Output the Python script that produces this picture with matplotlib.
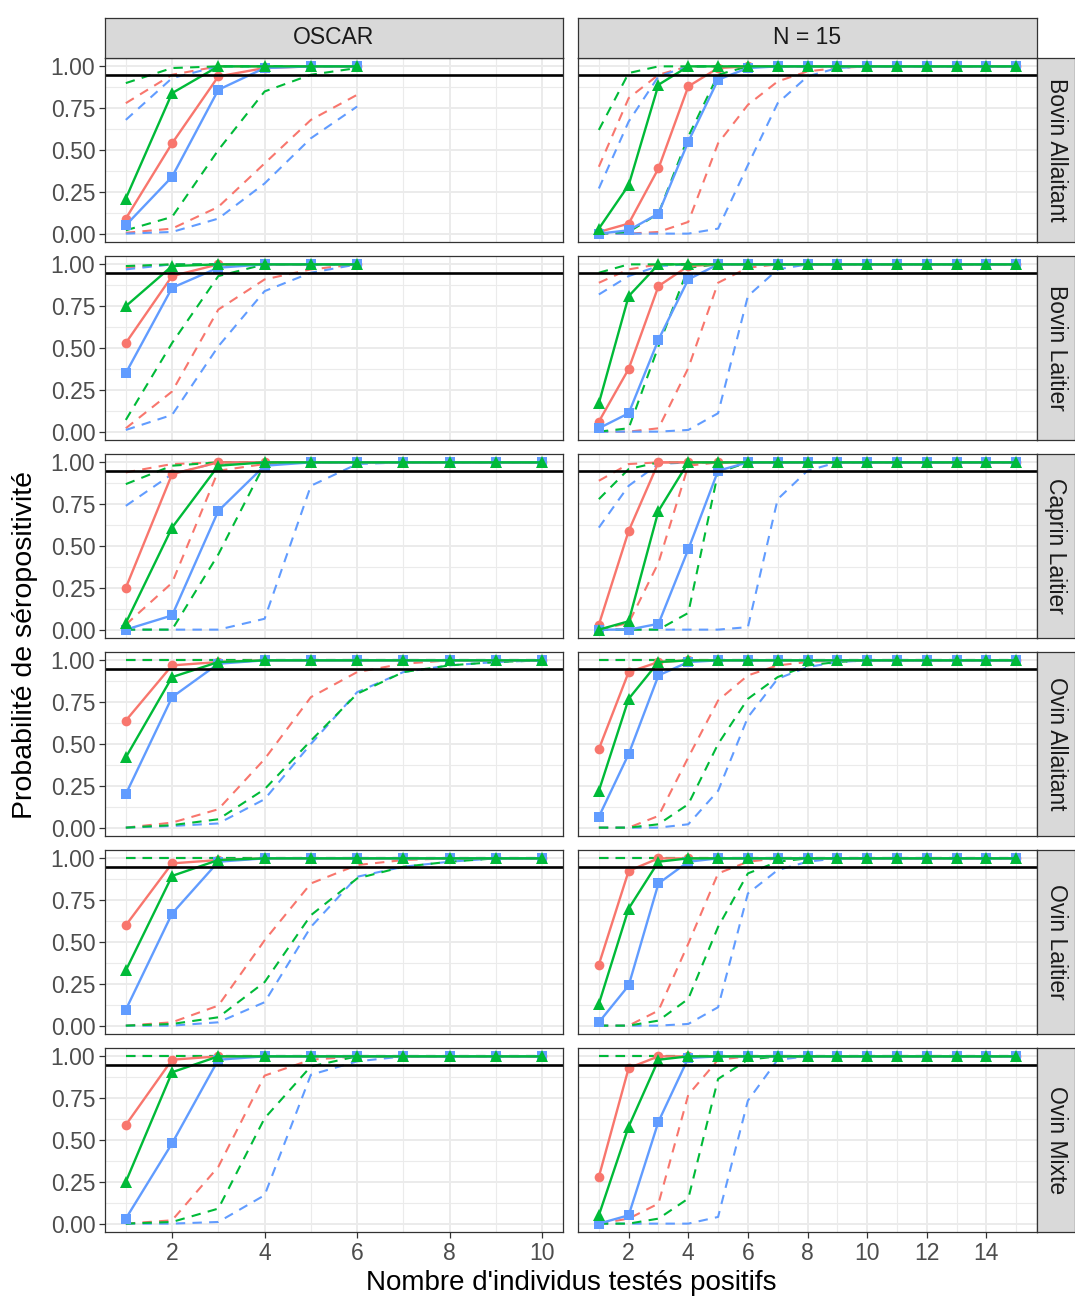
import matplotlib
matplotlib.use("Agg")
import matplotlib.pyplot as plt
from matplotlib.ticker import FixedLocator

plt.rcParams["font.family"] = ["Liberation Sans", "DejaVu Sans"]

# colonnes / lignes du facet
col_labels = ["OSCAR", "N = 15"]
row_labels = ["Bovin Allaitant", "Bovin Laitier", "Caprin Laitier",
              "Ovin Allaitant", "Ovin Laitier", "Ovin Mixte"]
x_label = "Nombre d'individus testés positifs"
y_label = "Probabilité de séropositivité"
seuil = 0.95

x_oscar_short = [1, 2, 3, 4, 5, 6]
x_oscar_long = [1, 2, 3, 4, 5, 6, 7, 8, 9, 10]
x_n15 = [1, 2, 3, 4, 5, 6, 7, 8, 9, 10, 11, 12, 13, 14, 15]

# chaque variable: [rouge, vert, bleu]
# --- Bovin Allaitant ---
ba_oscar_mid = [[0.09, 0.54, 0.94, 0.99, 1.0, 1.0],
                [0.21, 0.84, 1.0, 1.0, 1.0, 1.0],
                [0.05, 0.34, 0.86, 0.99, 1.0, 1.0]]
ba_oscar_lo = [[0.005, 0.03, 0.16, 0.42, 0.68, 0.83],
               [0.02, 0.10, 0.50, 0.85, 0.95, 0.99],
               [0.0, 0.01, 0.09, 0.30, 0.57, 0.76]]
ba_oscar_hi = [[0.78, 0.95, 1.0, 1.0, 1.0, 1.0],
               [0.90, 0.99, 1.0, 1.0, 1.0, 1.0],
               [0.68, 0.93, 1.0, 1.0, 1.0, 1.0]]
ba_n15_mid = [[0.01, 0.06, 0.39, 0.88, 0.99, 1.0, 1.0, 1.0, 1.0, 1.0, 1.0, 1.0, 1.0, 1.0, 1.0],
              [0.03, 0.29, 0.89, 1.0, 1.0, 1.0, 1.0, 1.0, 1.0, 1.0, 1.0, 1.0, 1.0, 1.0, 1.0],
              [0.0, 0.02, 0.12, 0.55, 0.92, 0.99, 1.0, 1.0, 1.0, 1.0, 1.0, 1.0, 1.0, 1.0, 1.0]]
ba_n15_lo = [[0.0, 0.0, 0.01, 0.07, 0.54, 0.77, 0.91, 0.97, 0.99, 1.0, 1.0, 1.0, 1.0, 1.0, 1.0],
             [0.0, 0.01, 0.12, 0.58, 0.95, 1.0, 1.0, 1.0, 1.0, 1.0, 1.0, 1.0, 1.0, 1.0, 1.0],
             [0.0, 0.0, 0.0, 0.0, 0.03, 0.41, 0.78, 0.94, 0.99, 1.0, 1.0, 1.0, 1.0, 1.0, 1.0]]
ba_n15_hi = [[0.40, 0.81, 0.95, 1.0, 1.0, 1.0, 1.0, 1.0, 1.0, 1.0, 1.0, 1.0, 1.0, 1.0, 1.0],
             [0.62, 0.96, 1.0, 1.0, 1.0, 1.0, 1.0, 1.0, 1.0, 1.0, 1.0, 1.0, 1.0, 1.0, 1.0],
             [0.27, 0.67, 0.94, 1.0, 1.0, 1.0, 1.0, 1.0, 1.0, 1.0, 1.0, 1.0, 1.0, 1.0, 1.0]]

# --- Bovin Laitier ---
bl_oscar_mid = [[0.53, 0.93, 1.0, 1.0, 1.0, 1.0],
                [0.75, 0.99, 1.0, 1.0, 1.0, 1.0],
                [0.35, 0.86, 0.98, 1.0, 1.0, 1.0]]
bl_oscar_lo = [[0.02, 0.24, 0.73, 0.91, 0.97, 1.0],
               [0.07, 0.53, 0.93, 1.0, 1.0, 1.0],
               [0.01, 0.10, 0.51, 0.84, 0.95, 1.0]]
bl_oscar_hi = [[0.98, 1.0, 1.0, 1.0, 1.0, 1.0],
               [0.99, 1.0, 1.0, 1.0, 1.0, 1.0],
               [0.97, 1.0, 1.0, 1.0, 1.0, 1.0]]
bl_n15_mid = [[0.06, 0.375, 0.87, 0.99, 1.0, 1.0, 1.0, 1.0, 1.0, 1.0, 1.0, 1.0, 1.0, 1.0, 1.0],
              [0.17, 0.81, 1.0, 1.0, 1.0, 1.0, 1.0, 1.0, 1.0, 1.0, 1.0, 1.0, 1.0, 1.0, 1.0],
              [0.02, 0.11, 0.55, 0.91, 1.0, 1.0, 1.0, 1.0, 1.0, 1.0, 1.0, 1.0, 1.0, 1.0, 1.0]]
bl_n15_lo = [[0.0, 0.0, 0.02, 0.38, 0.89, 0.98, 1.0, 1.0, 1.0, 1.0, 1.0, 1.0, 1.0, 1.0, 1.0],
             [0.0, 0.02, 0.51, 0.98, 1.0, 1.0, 1.0, 1.0, 1.0, 1.0, 1.0, 1.0, 1.0, 1.0, 1.0],
             [0.0, 0.0, 0.0, 0.01, 0.11, 0.81, 0.97, 1.0, 1.0, 1.0, 1.0, 1.0, 1.0, 1.0, 1.0]]
bl_n15_hi = [[0.89, 0.97, 1.0, 1.0, 1.0, 1.0, 1.0, 1.0, 1.0, 1.0, 1.0, 1.0, 1.0, 1.0, 1.0],
             [0.95, 1.0, 1.0, 1.0, 1.0, 1.0, 1.0, 1.0, 1.0, 1.0, 1.0, 1.0, 1.0, 1.0, 1.0],
             [0.82, 0.93, 0.99, 1.0, 1.0, 1.0, 1.0, 1.0, 1.0, 1.0, 1.0, 1.0, 1.0, 1.0, 1.0]]

# --- Caprin Laitier ---
cl_oscar_mid = [[0.25, 0.93, 1.0, 1.0, 1.0, 1.0, 1.0, 1.0, 1.0, 1.0],
                [0.04, 0.61, 0.98, 1.0, 1.0, 1.0, 1.0, 1.0, 1.0, 1.0],
                [0.0, 0.085, 0.71, 0.98, 1.0, 1.0, 1.0, 1.0, 1.0, 1.0]]
cl_oscar_lo = [[0.03, 0.28, 0.95, 0.99, 1.0, 1.0, 1.0, 1.0, 1.0, 1.0],
               [0.0, 0.0, 0.45, 0.99, 1.0, 1.0, 1.0, 1.0, 1.0, 1.0],
               [0.0, 0.0, 0.0, 0.065, 0.86, 0.99, 1.0, 1.0, 1.0, 1.0]]
cl_oscar_hi = [[0.94, 0.99, 1.0, 1.0, 1.0, 1.0, 1.0, 1.0, 1.0, 1.0],
               [0.87, 0.98, 1.0, 1.0, 1.0, 1.0, 1.0, 1.0, 1.0, 1.0],
               [0.74, 0.93, 1.0, 1.0, 1.0, 1.0, 1.0, 1.0, 1.0, 1.0]]
cl_n15_mid = [[0.03, 0.59, 1.0, 1.0, 1.0, 1.0, 1.0, 1.0, 1.0, 1.0, 1.0, 1.0, 1.0, 1.0, 1.0],
              [0.0, 0.05, 0.71, 1.0, 1.0, 1.0, 1.0, 1.0, 1.0, 1.0, 1.0, 1.0, 1.0, 1.0, 1.0],
              [0.0, 0.0, 0.035, 0.48, 0.95, 1.0, 1.0, 1.0, 1.0, 1.0, 1.0, 1.0, 1.0, 1.0, 1.0]]
cl_n15_lo = [[0.0, 0.04, 0.40, 0.98, 1.0, 1.0, 1.0, 1.0, 1.0, 1.0, 1.0, 1.0, 1.0, 1.0, 1.0],
             [0.0, 0.0, 0.0, 0.10, 0.94, 1.0, 1.0, 1.0, 1.0, 1.0, 1.0, 1.0, 1.0, 1.0, 1.0],
             [0.0, 0.0, 0.0, 0.0, 0.0, 0.015, 0.78, 0.95, 1.0, 1.0, 1.0, 1.0, 1.0, 1.0, 1.0]]
cl_n15_hi = [[0.89, 0.99, 1.0, 1.0, 1.0, 1.0, 1.0, 1.0, 1.0, 1.0, 1.0, 1.0, 1.0, 1.0, 1.0],
             [0.78, 0.96, 1.0, 1.0, 1.0, 1.0, 1.0, 1.0, 1.0, 1.0, 1.0, 1.0, 1.0, 1.0, 1.0],
             [0.61, 0.86, 0.99, 1.0, 1.0, 1.0, 1.0, 1.0, 1.0, 1.0, 1.0, 1.0, 1.0, 1.0, 1.0]]

# --- Ovin Allaitant ---
oa_oscar_mid = [[0.64, 0.97, 0.99, 1.0, 1.0, 1.0, 1.0, 1.0, 1.0, 1.0],
                [0.42, 0.90, 0.99, 1.0, 1.0, 1.0, 1.0, 1.0, 1.0, 1.0],
                [0.20, 0.78, 0.98, 1.0, 1.0, 1.0, 1.0, 1.0, 1.0, 1.0]]
oa_oscar_lo = [[0.0, 0.03, 0.11, 0.41, 0.78, 0.93, 0.98, 1.0, 1.0, 1.0],
               [0.0, 0.015, 0.05, 0.23, 0.52, 0.80, 0.93, 0.97, 0.99, 1.0],
               [0.0, 0.01, 0.025, 0.17, 0.50, 0.81, 0.93, 0.97, 0.99, 1.0]]
oa_oscar_hi = [[1.0, 1.0, 1.0, 1.0, 1.0, 1.0, 1.0, 1.0, 1.0, 1.0],
               [1.0, 1.0, 1.0, 1.0, 1.0, 1.0, 1.0, 1.0, 1.0, 1.0],
               [1.0, 1.0, 1.0, 1.0, 1.0, 1.0, 1.0, 1.0, 1.0, 1.0]]
oa_n15_mid = [[0.47, 0.93, 0.99, 1.0, 1.0, 1.0, 1.0, 1.0, 1.0, 1.0, 1.0, 1.0, 1.0, 1.0, 1.0],
              [0.22, 0.77, 0.99, 1.0, 1.0, 1.0, 1.0, 1.0, 1.0, 1.0, 1.0, 1.0, 1.0, 1.0, 1.0],
              [0.065, 0.44, 0.91, 0.99, 1.0, 1.0, 1.0, 1.0, 1.0, 1.0, 1.0, 1.0, 1.0, 1.0, 1.0]]
oa_n15_lo = [[0.0, 0.0, 0.07, 0.42, 0.76, 0.91, 0.97, 0.99, 1.0, 1.0, 1.0, 1.0, 1.0, 1.0, 1.0],
             [0.0, 0.0, 0.02, 0.14, 0.50, 0.77, 0.90, 0.97, 0.99, 1.0, 1.0, 1.0, 1.0, 1.0, 1.0],
             [0.0, 0.0, 0.0, 0.02, 0.22, 0.66, 0.89, 0.96, 0.99, 1.0, 1.0, 1.0, 1.0, 1.0, 1.0]]
oa_n15_hi = [[1.0, 1.0, 1.0, 1.0, 1.0, 1.0, 1.0, 1.0, 1.0, 1.0, 1.0, 1.0, 1.0, 1.0, 1.0],
             [1.0, 1.0, 1.0, 1.0, 1.0, 1.0, 1.0, 1.0, 1.0, 1.0, 1.0, 1.0, 1.0, 1.0, 1.0],
             [1.0, 1.0, 1.0, 1.0, 1.0, 1.0, 1.0, 1.0, 1.0, 1.0, 1.0, 1.0, 1.0, 1.0, 1.0]]

# --- Ovin Laitier ---
ol_oscar_mid = [[0.60, 0.97, 0.99, 1.0, 1.0, 1.0, 1.0, 1.0, 1.0, 1.0],
                [0.33, 0.895, 0.99, 1.0, 1.0, 1.0, 1.0, 1.0, 1.0, 1.0],
                [0.095, 0.67, 0.98, 1.0, 1.0, 1.0, 1.0, 1.0, 1.0, 1.0]]
ol_oscar_lo = [[0.0, 0.02, 0.12, 0.51, 0.85, 0.96, 0.99, 1.0, 1.0, 1.0],
               [0.0, 0.01, 0.05, 0.26, 0.66, 0.88, 0.95, 0.98, 1.0, 1.0],
               [0.0, 0.0, 0.02, 0.14, 0.59, 0.89, 0.95, 0.98, 1.0, 1.0]]
ol_oscar_hi = [[1.0, 1.0, 1.0, 1.0, 1.0, 1.0, 1.0, 1.0, 1.0, 1.0],
               [1.0, 1.0, 1.0, 1.0, 1.0, 1.0, 1.0, 1.0, 1.0, 1.0],
               [1.0, 1.0, 1.0, 1.0, 1.0, 1.0, 1.0, 1.0, 1.0, 1.0]]
ol_n15_mid = [[0.365, 0.925, 1.0, 1.0, 1.0, 1.0, 1.0, 1.0, 1.0, 1.0, 1.0, 1.0, 1.0, 1.0, 1.0],
              [0.13, 0.70, 0.98, 1.0, 1.0, 1.0, 1.0, 1.0, 1.0, 1.0, 1.0, 1.0, 1.0, 1.0, 1.0],
              [0.02, 0.24, 0.85, 0.98, 1.0, 1.0, 1.0, 1.0, 1.0, 1.0, 1.0, 1.0, 1.0, 1.0, 1.0]]
ol_n15_lo = [[0.0, 0.0, 0.09, 0.49, 0.91, 0.98, 1.0, 1.0, 1.0, 1.0, 1.0, 1.0, 1.0, 1.0, 1.0],
             [0.0, 0.0, 0.03, 0.16, 0.59, 0.91, 0.98, 1.0, 1.0, 1.0, 1.0, 1.0, 1.0, 1.0, 1.0],
             [0.0, 0.0, 0.0, 0.01, 0.11, 0.79, 0.93, 0.98, 1.0, 1.0, 1.0, 1.0, 1.0, 1.0, 1.0]]
ol_n15_hi = [[1.0, 1.0, 1.0, 1.0, 1.0, 1.0, 1.0, 1.0, 1.0, 1.0, 1.0, 1.0, 1.0, 1.0, 1.0],
             [1.0, 1.0, 1.0, 1.0, 1.0, 1.0, 1.0, 1.0, 1.0, 1.0, 1.0, 1.0, 1.0, 1.0, 1.0],
             [1.0, 1.0, 1.0, 1.0, 1.0, 1.0, 1.0, 1.0, 1.0, 1.0, 1.0, 1.0, 1.0, 1.0, 1.0]]

# --- Ovin Mixte ---
om_oscar_mid = [[0.59, 0.98, 1.0, 1.0, 1.0, 1.0, 1.0, 1.0, 1.0, 1.0],
                [0.25, 0.905, 1.0, 1.0, 1.0, 1.0, 1.0, 1.0, 1.0, 1.0],
                [0.03, 0.48, 0.98, 1.0, 1.0, 1.0, 1.0, 1.0, 1.0, 1.0]]
om_oscar_lo = [[0.0, 0.02, 0.34, 0.885, 0.98, 1.0, 1.0, 1.0, 1.0, 1.0],
               [0.0, 0.01, 0.09, 0.63, 0.94, 1.0, 1.0, 1.0, 1.0, 1.0],
               [0.0, 0.0, 0.01, 0.17, 0.89, 0.97, 1.0, 1.0, 1.0, 1.0]]
om_oscar_hi = [[1.0, 1.0, 1.0, 1.0, 1.0, 1.0, 1.0, 1.0, 1.0, 1.0],
               [1.0, 1.0, 1.0, 1.0, 1.0, 1.0, 1.0, 1.0, 1.0, 1.0],
               [1.0, 1.0, 1.0, 1.0, 1.0, 1.0, 1.0, 1.0, 1.0, 1.0]]
om_n15_mid = [[0.28, 0.93, 1.0, 1.0, 1.0, 1.0, 1.0, 1.0, 1.0, 1.0, 1.0, 1.0, 1.0, 1.0, 1.0],
              [0.05, 0.58, 0.98, 1.0, 1.0, 1.0, 1.0, 1.0, 1.0, 1.0, 1.0, 1.0, 1.0, 1.0, 1.0],
              [0.0, 0.05, 0.61, 0.99, 1.0, 1.0, 1.0, 1.0, 1.0, 1.0, 1.0, 1.0, 1.0, 1.0, 1.0]]
om_n15_lo = [[0.0, 0.03, 0.12, 0.77, 0.98, 1.0, 1.0, 1.0, 1.0, 1.0, 1.0, 1.0, 1.0, 1.0, 1.0],
             [0.0, 0.0, 0.03, 0.15, 0.865, 0.98, 1.0, 1.0, 1.0, 1.0, 1.0, 1.0, 1.0, 1.0, 1.0],
             [0.0, 0.0, 0.0, 0.0, 0.04, 0.735, 0.98, 1.0, 1.0, 1.0, 1.0, 1.0, 1.0, 1.0, 1.0]]
om_n15_hi = [[1.0, 1.0, 1.0, 1.0, 1.0, 1.0, 1.0, 1.0, 1.0, 1.0, 1.0, 1.0, 1.0, 1.0, 1.0],
             [1.0, 1.0, 1.0, 1.0, 1.0, 1.0, 1.0, 1.0, 1.0, 1.0, 1.0, 1.0, 1.0, 1.0, 1.0],
             [1.0, 1.0, 1.0, 1.0, 1.0, 1.0, 1.0, 1.0, 1.0, 1.0, 1.0, 1.0, 1.0, 1.0, 1.0]]

panels = [
    [(x_oscar_short, ba_oscar_mid, ba_oscar_lo, ba_oscar_hi), (x_n15, ba_n15_mid, ba_n15_lo, ba_n15_hi)],
    [(x_oscar_short, bl_oscar_mid, bl_oscar_lo, bl_oscar_hi), (x_n15, bl_n15_mid, bl_n15_lo, bl_n15_hi)],
    [(x_oscar_long, cl_oscar_mid, cl_oscar_lo, cl_oscar_hi), (x_n15, cl_n15_mid, cl_n15_lo, cl_n15_hi)],
    [(x_oscar_long, oa_oscar_mid, oa_oscar_lo, oa_oscar_hi), (x_n15, oa_n15_mid, oa_n15_lo, oa_n15_hi)],
    [(x_oscar_long, ol_oscar_mid, ol_oscar_lo, ol_oscar_hi), (x_n15, ol_n15_mid, ol_n15_lo, ol_n15_hi)],
    [(x_oscar_long, om_oscar_mid, om_oscar_lo, om_oscar_hi), (x_n15, om_n15_mid, om_n15_lo, om_n15_hi)],
]

colors = ["#F8766D", "#00BA38", "#619CFF"]
markers = ["o", "^", "s"]
msizes = [7.0, 8.5, 7.0]
draw_order = [0, 2, 1]

W, H = 1075, 1299
fig = plt.figure(figsize=(W / 100, H / 100), dpi=100)


def rect(x0, y0, x1, y1):
    return [x0 / W, 1 - y1 / H, (x1 - x0) / W, (y1 - y0) / H]


col_x = [(105, 563), (578, 1037)]
xlims = [(0.55, 10.45), (0.3, 15.7)]
xmajor = [[2, 4, 6, 8, 10], [2, 4, 6, 8, 10, 12, 14]]
xminor = [[1, 3, 5, 7, 9], [1, 3, 5, 7, 9, 11, 13, 15]]
row_y0 = 58
row_h = 184
row_step = 198
border = "#333333"

for r in range(6):
    y0 = row_y0 + r * row_step
    y1 = y0 + row_h
    for c in range(2):
        x0, x1 = col_x[c]
        ax = fig.add_axes(rect(x0, y0, x1, y1))
        xs, mid, lo, hi = panels[r][c]
        ax.set_xlim(*xlims[c])
        ax.set_ylim(-0.05, 1.05)
        ax.xaxis.set_major_locator(FixedLocator(xmajor[c]))
        ax.xaxis.set_minor_locator(FixedLocator(xminor[c]))
        ax.yaxis.set_major_locator(FixedLocator([0, 0.25, 0.5, 0.75, 1.0]))
        ax.yaxis.set_minor_locator(FixedLocator([0.125, 0.375, 0.625, 0.875]))
        ax.grid(which="major", color="#EBEBEB", linewidth=1.4)
        ax.grid(which="minor", color="#EBEBEB", linewidth=0.8)
        ax.set_axisbelow(True)
        for sp in ax.spines.values():
            sp.set_color(border)
            sp.set_linewidth(0.9)
        ax.tick_params(which="minor", length=0)
        ax.tick_params(which="major", length=4, width=0.9, color=border,
                       labelsize=16.5, labelcolor="#4D4D4D", pad=3)
        ax.set_yticklabels(["0.00", "0.25", "0.50", "0.75", "1.00"])
        if c == 1:
            ax.tick_params(axis="y", left=False, labelleft=False)
        if r < 5:
            ax.tick_params(axis="x", bottom=False, labelbottom=False)

        for k in draw_order:
            ax.plot(xs, lo[k], color=colors[k], linewidth=1.5, linestyle=(0, (4.5, 3.5)))
            ax.plot(xs, hi[k], color=colors[k], linewidth=1.5, linestyle=(0, (4.5, 3.5)))
        for k in draw_order:
            ax.plot(xs, mid[k], color=colors[k], linewidth=1.7,
                    marker=markers[k], markersize=msizes[k], markeredgewidth=0)
        ax.axhline(seuil, color="black", linewidth=1.9)

        if r == 0:
            sax = fig.add_axes(rect(x0, 18, x1, 58))
            sax.set_facecolor("#D9D9D9")
            sax.set_xticks([])
            sax.set_yticks([])
            for sp in sax.spines.values():
                sp.set_color(border)
                sp.set_linewidth(0.9)
            sax.text(0.5, 0.5, col_labels[c], ha="center", va="center",
                     fontsize=16.5, color="#1A1A1A", transform=sax.transAxes)

    sax = fig.add_axes(rect(1037, y0, 1075, y1))
    sax.set_facecolor("#D9D9D9")
    sax.set_xticks([])
    sax.set_yticks([])
    for sp in sax.spines.values():
        sp.set_color(border)
        sp.set_linewidth(0.9)
    sax.text(0.5, 0.5, row_labels[r], ha="center", va="center", rotation=-90,
             fontsize=16.5, color="#1A1A1A", transform=sax.transAxes)

fig.text(571 / W, 1 - 1283 / H, x_label, ha="center", va="center", fontsize=20)
fig.text(25 / W, 1 - 645 / H, y_label, ha="center", va="center", rotation=90, fontsize=20.5)

fig.savefig("out.png", dpi=100)
